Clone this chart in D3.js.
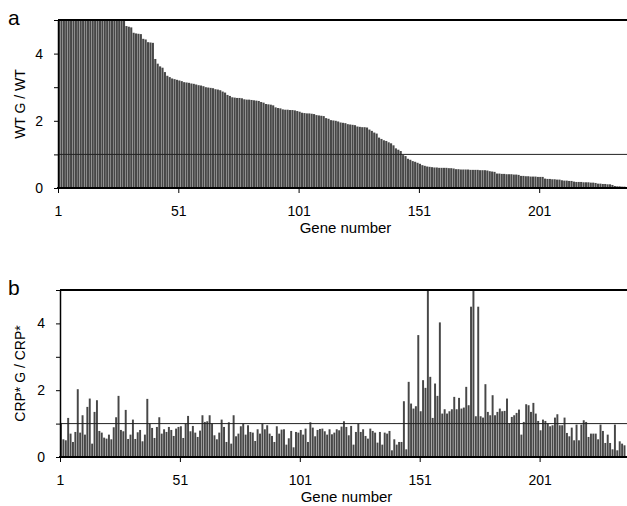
<!DOCTYPE html>
<html>
<head>
<meta charset="utf-8">
<script src="https://cdn.jsdelivr.net/npm/d3@7"></script>
<style>
body{margin:0;background:#fff}
svg{display:block;font-family:Arial,"Liberation Sans",sans-serif}
</style>
</head>
<body>
<svg id="chart" width="627" height="506"></svg>
<script>
// ratio per gene, panel a sorted high to low (bars above 5 are drawn at 5)
var wtRatio = [
  5,5,5,5,5,5,5,5,5,5,
  5,5,5,5,5,5,5,5,5,5,
  5,5,5,5,5,5,5,5,4.82,4.80,
  4.78,4.62,4.60,4.59,4.58,4.44,4.42,4.34,4.33,4.32,
  3.84,3.70,3.62,3.58,3.45,3.34,3.30,3.26,3.24,3.22,
  3.20,3.18,3.15,3.14,3.13,3.11,3.10,3.08,3.06,3.05,
  3.03,3.00,2.99,2.98,2.97,2.94,2.93,2.91,2.87,2.84,
  2.77,2.74,2.70,2.69,2.68,2.68,2.67,2.64,2.63,2.63,
  2.62,2.61,2.60,2.59,2.56,2.54,2.50,2.49,2.48,2.46,
  2.40,2.38,2.37,2.34,2.33,2.33,2.32,2.32,2.31,2.29,
  2.27,2.24,2.23,2.22,2.22,2.21,2.20,2.17,2.16,2.15,
  2.14,2.08,2.06,2.02,2.01,2.00,1.98,1.95,1.94,1.93,
  1.90,1.89,1.88,1.87,1.83,1.82,1.81,1.81,1.80,1.74,
  1.70,1.65,1.62,1.50,1.46,1.42,1.40,1.36,1.33,1.27,
  1.18,1.14,1.10,0.98,0.95,0.87,0.84,0.80,0.78,0.75,
  0.72,0.68,0.66,0.64,0.63,0.62,0.61,0.61,0.60,0.60,
  0.60,0.60,0.59,0.59,0.58,0.56,0.56,0.55,0.55,0.55,
  0.55,0.54,0.54,0.54,0.54,0.53,0.53,0.53,0.52,0.50,
  0.49,0.48,0.43,0.43,0.42,0.42,0.41,0.41,0.41,0.40,
  0.40,0.39,0.36,0.36,0.35,0.35,0.34,0.34,0.34,0.33,
  0.33,0.33,0.28,0.27,0.27,0.26,0.26,0.25,0.25,0.23,
  0.22,0.22,0.21,0.21,0.19,0.18,0.18,0.18,0.17,0.17,
  0.17,0.16,0.16,0.15,0.13,0.13,0.12,0.12,0.11,0.11,
  0.09,0.06,0.05,0.05,0.04,0.04
]

// same genes, same order, in the CRP* background
var crpRatio = [
  1.02,0.53,0.50,1.17,0.70,0.45,0.75,2.03,0.73,1.25,
  0.67,1.50,1.75,0.40,1.35,1.70,0.78,0.73,0.58,0.55,
  0.67,0.53,0.89,1.19,1.83,0.81,0.77,1.41,0.54,0.67,
  1.12,0.54,0.74,0.81,0.47,0.67,1.74,1.00,0.87,0.57,
  0.90,1.19,0.70,0.83,0.75,0.90,0.81,0.63,0.85,0.90,
  0.92,0.57,1.00,1.23,0.77,0.93,0.73,0.60,0.79,
  1.25,1.05,1.07,1.25,1.00,0.65,0.53,0.73,1.12,0.90,
  0.45,1.04,0.40,1.25,0.62,0.70,0.92,1.00,0.67,0.95,
  0.75,0.73,0.48,0.83,0.70,1.00,0.83,0.95,0.70,0.63,
  0.45,0.92,0.70,0.82,0.83,0.37,0.56,0.78,0.29,0.75,
  0.73,0.81,0.67,0.85,0.45,1.04,0.88,0.62,0.81,0.84,
  0.85,0.77,0.67,0.83,0.68,0.73,0.83,0.80,0.91,
  1.07,0.90,0.65,0.93,0.37,0.75,1.00,0.75,0.83,0.63,
  0.55,0.85,0.78,0.73,0.43,0.75,0.37,0.73,0.70,0.78,
  0.20,0.53,0.37,0.45,0.45,1.67,0.23,2.25,1.60,1.45,
  1.52,3.65,1.37,2.30,2.07,5.00,2.40,1.17,2.20,1.83,
  4.03,1.30,1.43,1.30,1.37,1.43,1.80,1.43,1.77,1.45,
  1.48,2.10,1.55,4.50,5.00,1.22,4.50,
  1.22,1.18,
  2.18,1.35,1.25,1.85,1.25,1.35,1.45,1.37,1.38,1.75,
  1.00,1.20,1.25,1.32,1.42,0.67,1.05,1.58,1.55,1.35,
  1.62,1.30,1.08,0.80,1.12,1.08,1.00,0.92,0.95,1.18,
  1.28,0.95,0.95,1.18,0.72,0.62,0.88,0.50,0.97,0.50,
  0.97,1.10,1.05,0.60,0.70,0.70,0.70,0.53,0.97,0.78,
  0.42,0.67,0.42,0.23,0.97,0.20,0.47,0.40,0.35
]

var yTicks = [0, 1, 2, 3, 4, 5]
var xTicks = [1, 51, 101, 151, 201]
var yMax = 5
var refLevel = 1

var W = 627
var panels = [
  {letter: 'a', title: 'WT G / WT', values: wtRatio, left: 58, top: 20, bottom: 188, step: 2.406, gap: 0.3},
  {letter: 'b', title: 'CRP* G / CRP*', values: crpRatio, left: 60, top: 290, bottom: 457, step: 2.398, gap: 0.45}
]

var svg = d3.select('#chart')

panels.forEach(function(p){
  var n = p.values.length
  var x = d3.scaleLinear().domain([1, n + 1]).range([p.left, p.left + n*p.step])
  var y = d3.scaleLinear().domain([0, yMax]).range([p.bottom, p.top])

  var g = svg.append('g')

  g.selectAll('rect.bar').data(p.values).enter().append('rect')
    .attr('class', 'bar')
    .attr('x', (d, i) => x(i + 1))
    .attr('width', (d, i) => x(i + 2) - x(i + 1) - p.gap)
    .attr('y', d => y(Math.min(d, yMax)))
    .attr('height', d => y(0) - y(Math.min(d, yMax)))
    .attr('fill', '#474747')

  // reference line at 1 and the top line at 5
  g.append('line')
    .attr('x1', p.left).attr('x2', W)
    .attr('y1', y(refLevel)).attr('y2', y(refLevel))
    .attr('stroke', '#222').attr('stroke-width', 1)

  g.append('line')
    .attr('x1', p.left).attr('x2', W)
    .attr('y1', y(yMax)).attr('y2', y(yMax))
    .attr('stroke', '#000').attr('stroke-width', 1.8)

  var yAxis = g.append('g')
    .attr('transform', 'translate(' + p.left + ',0)')
    .call(d3.axisLeft(y).tickValues(yTicks)
      .tickFormat(d => d % 2 ? '' : d)
      .tickSize(4).tickPadding(11).tickSizeOuter(0))

  var xAxis = g.append('g')
    .attr('transform', 'translate(0,' + p.bottom + ')')
    .call(d3.axisBottom(x).tickValues(xTicks)
      .tickSize(5).tickPadding(13).tickSizeOuter(0))

  xAxis.select('.domain').remove()
  g.append('line')
    .attr('x1', p.left - 1).attr('x2', W)
    .attr('y1', p.bottom).attr('y2', p.bottom)
    .attr('stroke', '#000').attr('stroke-width', 2)

  g.selectAll('.tick text').attr('font-size', 14).attr('font-family', null).attr('fill', '#000')
  g.selectAll('.tick line').attr('stroke', '#000')
  yAxis.select('.domain').attr('stroke', '#000').attr('stroke-width', 1.5)

  g.append('text')
    .attr('transform', 'translate(25,' + (p.top + p.bottom)/2 + ') rotate(-90)')
    .attr('text-anchor', 'middle')
    .attr('font-size', 14)
    .text(p.title)

  g.append('text')
    .attr('x', p.left + (W - p.left)/2 + 3)
    .attr('y', p.bottom + 45)
    .attr('text-anchor', 'middle')
    .attr('font-size', 15)
    .text('Gene number')

  g.append('text')
    .attr('x', 8)
    .attr('y', p.top + 5)
    .attr('font-size', 21)
    .text(p.letter)
})
</script>
</body>
</html>
